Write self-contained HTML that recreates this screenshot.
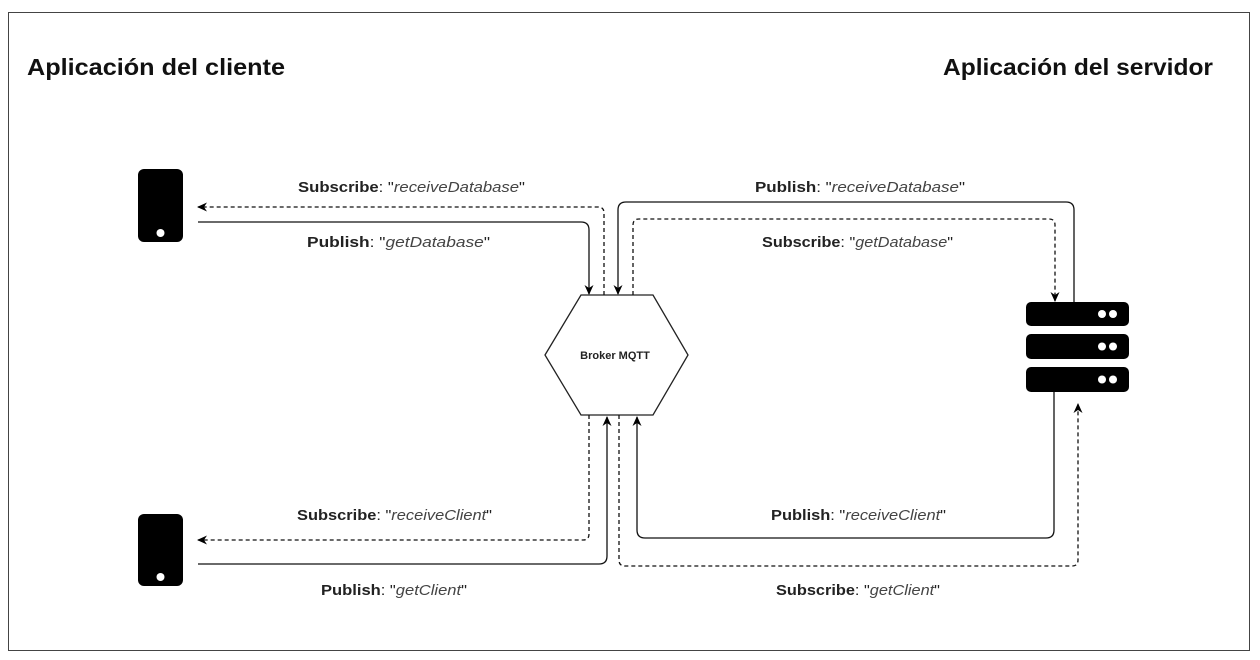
<!DOCTYPE html>
<html><head><meta charset="utf-8"><style>
html,body{margin:0;padding:0;background:#fff;}
svg{display:block;}
.t{font-family:"Liberation Sans",sans-serif;font-size:15px;fill:#222;}
.b{font-weight:bold;}
.i{font-style:italic;fill:#444;}
</style></head><body>
<svg width="1260" height="660" viewBox="0 0 1260 660" xmlns="http://www.w3.org/2000/svg">
<defs>
<marker id="a" markerWidth="12" markerHeight="12" refX="9" refY="6" orient="auto" markerUnits="userSpaceOnUse">
<path d="M0,1.5 L10,6 L0,10.5 L3,6 Z" fill="#000"/></marker>
</defs>
<rect x="8.5" y="12.5" width="1241" height="638" fill="#fff" stroke="#444" stroke-width="1"/>
<text x="27" y="75" font-family="Liberation Sans,sans-serif" font-size="23" font-weight="bold" fill="#111" textLength="258" lengthAdjust="spacingAndGlyphs">Aplicación del cliente</text>
<text x="943" y="75" font-family="Liberation Sans,sans-serif" font-size="23" font-weight="bold" fill="#111" textLength="270" lengthAdjust="spacingAndGlyphs">Aplicación del servidor</text>

<rect x="138" y="169" width="45" height="73" rx="6" fill="#000"/>
<circle cx="160.5" cy="233" r="4" fill="#fff"/>
<rect x="138" y="514" width="45" height="72" rx="6" fill="#000"/>
<circle cx="160.5" cy="577" r="4" fill="#fff"/>

<g fill="#000">
<rect x="1026" y="302" width="103" height="24" rx="5"/>
<rect x="1026" y="334" width="103" height="25" rx="5"/>
<rect x="1026" y="367" width="103" height="25" rx="5"/>
</g>
<g fill="#fff">
<circle cx="1102" cy="314" r="4"/><circle cx="1113" cy="314" r="4"/>
<circle cx="1102" cy="346.5" r="4"/><circle cx="1113" cy="346.5" r="4"/>
<circle cx="1102" cy="379.5" r="4"/><circle cx="1113" cy="379.5" r="4"/>
</g>

<polygon points="545,355 581,295 653,295 688,355 653,415 581,415" fill="#fff" stroke="#222" stroke-width="1.3"/>
<text x="615" y="359" text-anchor="middle" font-family="Liberation Sans,sans-serif" font-size="11" font-weight="bold" fill="#222">Broker MQTT</text>

<g fill="none" stroke="#111" stroke-width="1.3">
<path d="M604,295 V213 Q604,207 598,207 H198" stroke-dasharray="4,3" marker-end="url(#a)"/>
<path d="M198,222 H581 Q589,222 589,230 V294" marker-end="url(#a)"/>
<path d="M1074,302 V210 Q1074,202 1066,202 H626 Q618,202 618,210 V294" marker-end="url(#a)"/>
<path d="M633,295 V225 Q633,219 639,219 H1049 Q1055,219 1055,225 V301" stroke-dasharray="4,3" marker-end="url(#a)"/>
<path d="M589,415 V534 Q589,540 583,540 H198" stroke-dasharray="4,3" marker-end="url(#a)"/>
<path d="M198,564 H599 Q607,564 607,556 V417" marker-end="url(#a)"/>
<path d="M1054,392 V530 Q1054,538 1046,538 H645 Q637,538 637,530 V417" marker-end="url(#a)"/>
<path d="M619,415 V560 Q619,566 625,566 H1072 Q1078,566 1078,560 V404" stroke-dasharray="4,3" marker-end="url(#a)"/>
</g>

<text class="t" x="298" y="192" textLength="227" lengthAdjust="spacingAndGlyphs"><tspan class="b">Subscribe</tspan>: "<tspan class="i">receiveDatabase</tspan>"</text>
<text class="t" x="307" y="247" textLength="183" lengthAdjust="spacingAndGlyphs"><tspan class="b">Publish</tspan>: "<tspan class="i">getDatabase</tspan>"</text>
<text class="t" x="755" y="192" textLength="210" lengthAdjust="spacingAndGlyphs"><tspan class="b">Publish</tspan>: "<tspan class="i">receiveDatabase</tspan>"</text>
<text class="t" x="762" y="247" textLength="191" lengthAdjust="spacingAndGlyphs"><tspan class="b">Subscribe</tspan>: "<tspan class="i">getDatabase</tspan>"</text>
<text class="t" x="297" y="520" textLength="195" lengthAdjust="spacingAndGlyphs"><tspan class="b">Subscribe</tspan>: "<tspan class="i">receiveClient</tspan>"</text>
<text class="t" x="321" y="595" textLength="146" lengthAdjust="spacingAndGlyphs"><tspan class="b">Publish</tspan>: "<tspan class="i">getClient</tspan>"</text>
<text class="t" x="771" y="520" textLength="175" lengthAdjust="spacingAndGlyphs"><tspan class="b">Publish</tspan>: "<tspan class="i">receiveClient</tspan>"</text>
<text class="t" x="776" y="595" textLength="164" lengthAdjust="spacingAndGlyphs"><tspan class="b">Subscribe</tspan>: "<tspan class="i">getClient</tspan>"</text>
</svg>
</body></html>
